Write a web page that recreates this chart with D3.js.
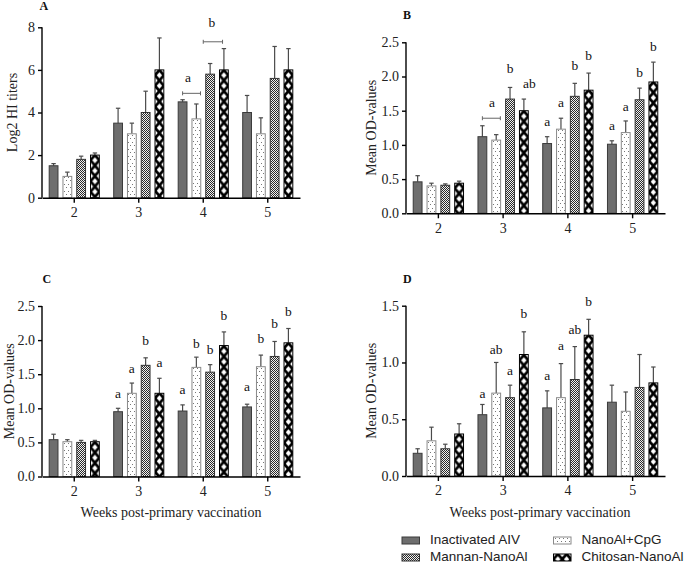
<!DOCTYPE html>
<html><head><meta charset="utf-8">
<script src="https://cdn.jsdelivr.net/npm/d3@7"></script>
<style>body{margin:0;background:#fff} svg{display:block}</style>
</head><body>
<svg id="chart" width="686" height="564"></svg>
<script>
const weeks = ["2","3","4","5"];
const groups = ["Inactivated AIV","NanoAl+CpG","Mannan-NanoAl","Chitosan-NanoAl"];

// Panel A: Log2 HI titers (rows = weeks, cols = groups)
const hiMeans  = [[1.5,1.0,1.8,2.0],[3.5,3.0,4.0,6.0],[4.5,3.7,5.8,6.0],[4.0,3.0,5.6,6.0]];
const hiErrors = [[0.1,0.2,0.15,0.1],[0.7,0.5,1.0,1.5],[0.1,0.7,0.5,1.0],[0.8,0.75,1.5,1.0]];
// Panel B
const bMeans  = [[0.46,0.40,0.41,0.44],[1.12,1.07,1.67,1.50],[1.02,1.23,1.71,1.80],[1.01,1.18,1.66,1.92]];
const bErrors = [[0.09,0.04,0.02,0.03],[0.16,0.08,0.17,0.17],[0.10,0.16,0.19,0.25],[0.05,0.17,0.17,0.29]];
// Panel C
const cMeans  = [[0.54,0.51,0.50,0.51],[0.95,1.22,1.63,1.22],[0.96,1.60,1.53,1.92],[1.02,1.61,1.76,1.96]];
const cErrors = [[0.08,0.03,0.03,0.02],[0.05,0.15,0.11,0.22],[0.09,0.15,0.11,0.20],[0.04,0.17,0.22,0.21]];
// Panel D
const dMeans  = [[0.20,0.31,0.24,0.37],[0.54,0.73,0.69,1.07],[0.60,0.69,0.85,1.24],[0.65,0.57,0.78,0.82]];
const dErrors = [[0.04,0.12,0.04,0.09],[0.09,0.27,0.11,0.20],[0.15,0.30,0.29,0.14],[0.15,0.17,0.29,0.14]];

// tick labels
const ticksA = [0,2,4,6,8];
const ticksBC = [0,0.5,1.0,1.5,2.0,2.5];
const ticksD = [0,0.5,1.0,1.5];

// significance letters: [week, bar position, letter, value]
const annA = [["4",0.4,"a",5.65],["4",2.13,"b",8.23]];
const annB = [["3",0.69,"a",1.63],["3",2,"b",2.12],["3",3.4,"ab",1.90],
              ["4",0,"a",1.34],["4",1,"a",1.63],["4",2,"b",2.17],["4",3,"b",2.31],
              ["5",0,"a",1.29],["5",1,"a",1.57],["5",2,"b",2.06],["5",3,"b",2.44]];
const annC = [["3",0,"a",1.22],["3",1,"a",1.59],["3",2,"b",2.0],["3",3,"a",1.68],
              ["4",0,"a",1.28],["4",1,"b",1.96],["4",2,"b",1.87],["4",3,"b",2.37],
              ["5",0,"a",1.32],["5",1,"b",2.03],["5",2,"b",2.24],["5",3,"b",2.42]];
const annD = [["3",0,"a",0.73],["3",1,"ab",1.12],["3",2,"a",0.93],["3",3,"b",1.43],
              ["4",0,"a",0.89],["4",1,"a",1.15],["4",2,"ab",1.29],["4",3,"b",1.54]];
// brackets: [week, from bar, to bar, value]
const brA = [["4",0,1.3,4.9],["4",1.5,2.9,7.32]];
const brB = [["3",0,1.3,1.39]];

const serif = "'Liberation Serif','Times New Roman',serif";
const sans = "'Liberation Sans',Arial,sans-serif";

const panels = [
  {key:"A", means:hiMeans, errs:hiErrors, yMax:8, ticks:ticksA, fmt:d3.format("d"), yTitle:"Log2 HI titers",
   ann:annA, br:brA, x0:42, x1:300, yb:197.7, yt:27.3, letter:[39.5,9.5], titleX:12, xTitle:null},
  {key:"B", means:bMeans, errs:bErrors, yMax:2.5, ticks:ticksBC, fmt:d3.format(".1f"), yTitle:"Mean OD-values",
   ann:annB, br:brB, x0:406, x1:665, yb:213.3, yt:42.3, letter:[403,19], titleX:371, xTitle:null},
  {key:"C", means:cMeans, errs:cErrors, yMax:2.5, ticks:ticksBC, fmt:d3.format(".1f"), yTitle:"Mean OD-values",
   ann:annC, br:[], x0:42, x1:300, yb:476.5, yt:306, letter:[42.5,282.5], titleX:9, xTitle:171},
  {key:"D", means:dMeans, errs:dErrors, yMax:1.5, ticks:ticksD, fmt:d3.format(".1f"), yTitle:"Mean OD-values",
   ann:annD, br:[], x0:406, x1:665, yb:476, yt:305.7, letter:[403,282.5], titleX:371, xTitle:540}
];

const svg = d3.select("#chart");
const defs = svg.append("defs");
let pid = 0;

function makeFill(g, x, y, w) {
  if (g === 0) return "#6e6e6e";
  const id = "pat" + (pid++);
  const p = defs.append("pattern").attr("id", id).attr("patternUnits","userSpaceOnUse")
    .attr("x", Math.round(x)).attr("y", Math.round(y));
  if (g === 1) {
    const tw = Math.round(w/2), th = 7;
    p.attr("width", tw).attr("height", th);
    p.append("rect").attr("width", tw).attr("height", th).attr("fill","#fff");
    p.append("rect").attr("x", 1).attr("y",1).attr("width",1).attr("height",1).attr("fill","#777");
    p.append("rect").attr("x", 3).attr("y",4).attr("width",1).attr("height",1).attr("fill","#777");
  } else if (g === 2) {
    p.attr("width", 2).attr("height", 2);
    p.append("rect").attr("width",2).attr("height",2).attr("fill","#f0f0f0");
    p.append("rect").attr("width",1).attr("height",1).attr("fill","#2a2a2a");
    p.append("rect").attr("x",1).attr("y",1).attr("width",1).attr("height",1).attr("fill","#2a2a2a");
  } else {
    p.attr("x", x);
    const tw = w, th = 10.5;
    p.attr("width", tw).attr("height", th);
    p.append("rect").attr("width", tw).attr("height", th).attr("fill","#000");
    const dw = tw*0.3, dh = 3.2;
    const centers = [[tw/2, th/2],[0,0],[tw,0],[0,th],[tw,th]];
    centers.forEach(([cx,cy]) => {
      p.append("path").attr("d", `M${cx-dw},${cy}L${cx},${cy-dh}L${cx+dw},${cy}L${cx},${cy+dh}Z`).attr("fill","#fff");
    });
  }
  return `url(#${id})`;
}
const strokes = ["#3a3a3a","#8a8a8a","#333","#000"];

panels.forEach(P => {
  const gP = svg.append("g");
  const x = d3.scaleBand().domain(weeks).range([P.x0, P.x1]).paddingInner(0.223).paddingOuter(0.1115);
  const xi = d3.scaleBand().domain([0,1,2,3]).range([0, x.bandwidth()]).paddingInner(0.362).paddingOuter(0);
  const y = d3.scaleLinear().domain([0, P.yMax]).range([P.yb, P.yt]);
  const bw = xi.bandwidth();
  const posX = (w, pos) => x(w) + xi(0) + bw/2 + pos*xi.step();

  weeks.forEach((w, wi) => {
    groups.forEach((g, gi) => {
      const m = P.means[wi][gi], e = P.errs[wi][gi];
      const bx = x(w) + xi(gi);
      const cx = bx + bw/2;
      gP.append("line").attr("x1",cx).attr("x2",cx).attr("y1",y(m)).attr("y2",y(m+e))
        .attr("stroke","#4a4a4a").attr("stroke-width",1.2);
      gP.append("line").attr("x1",cx-2.2).attr("x2",cx+2.2).attr("y1",y(m+e)).attr("y2",y(m+e))
        .attr("stroke","#4a4a4a").attr("stroke-width",1.2);
      gP.append("rect").attr("x",bx).attr("y",y(m)).attr("width",bw).attr("height",y(0)-y(m))
        .attr("fill", makeFill(gi, bx, y(m), bw)).attr("stroke", strokes[gi]).attr("stroke-width",1);
    });
  });

  const ax = gP.append("g").attr("transform",`translate(0,${P.yb})`)
    .call(d3.axisBottom(x).tickSize(5).tickSizeOuter(0).tickPadding(4.5));
  const ay = gP.append("g").attr("transform",`translate(${P.x0},0)`)
    .call(d3.axisLeft(y).tickValues(P.ticks).tickFormat(P.fmt).tickSize(4).tickSizeOuter(0).tickPadding(3));
  [ax, ay].forEach(a => {
    a.selectAll("path,line").attr("stroke","#000").attr("stroke-width",1.4);
    a.selectAll("text").attr("font-family",serif).attr("font-size",14).attr("fill","#222");
  });
  ay.select(".domain").attr("d", `M0,${P.yb}V${P.yt}`);

  gP.append("text").attr("transform",`translate(${P.titleX},${(P.yb+P.yt)/2}) rotate(-90)`)
    .attr("text-anchor","middle").attr("dominant-baseline","central")
    .attr("font-family",serif).attr("font-size",14).attr("fill","#222").text(P.yTitle);

  gP.append("text").attr("x",P.letter[0]).attr("y",P.letter[1])
    .attr("font-family",serif).attr("font-weight","bold").attr("font-size",12).attr("fill","#111").text(P.key);

  if (P.xTitle !== null) {
    gP.append("text").attr("x",P.xTitle).attr("y",517).attr("text-anchor","middle")
      .attr("font-family",serif).attr("font-size",14).attr("fill","#222").text("Weeks post-primary vaccination");
  }

  P.ann.forEach(([w,pos,lab,v]) => {
    gP.append("text").attr("x",posX(w,pos)).attr("y",y(v)).attr("dy","0.35em").attr("text-anchor","middle")
      .attr("font-family",serif).attr("font-size",13.5).attr("fill","#111").text(lab);
  });
  P.br.forEach(([w,a,b,v]) => {
    const xa = posX(w,a), xb = posX(w,b), yy = y(v);
    gP.append("path").attr("d",`M${xa},${yy-2}V${yy+2}M${xa},${yy}H${xb}M${xb},${yy-2}V${yy+2}`)
      .attr("fill","none").attr("stroke","#666").attr("stroke-width",1);
  });
});

// legend
const legPos = [[402,537],[553.5,537],[402,554],[553.5,554]];
groups.forEach((name, gi) => {
  const [lx, ly] = legPos[gi];
  svg.append("rect").attr("x",lx).attr("y",ly).attr("width",17.5).attr("height",7)
    .attr("fill", makeFill(gi, lx, ly, 17.5/2)).attr("stroke", strokes[gi]).attr("stroke-width",1);
  svg.append("text").attr("x",lx+28).attr("y",ly+7).attr("font-family",sans).attr("font-size",13.5)
    .attr("fill","#222").text(name);
});
</script>
</body></html>
